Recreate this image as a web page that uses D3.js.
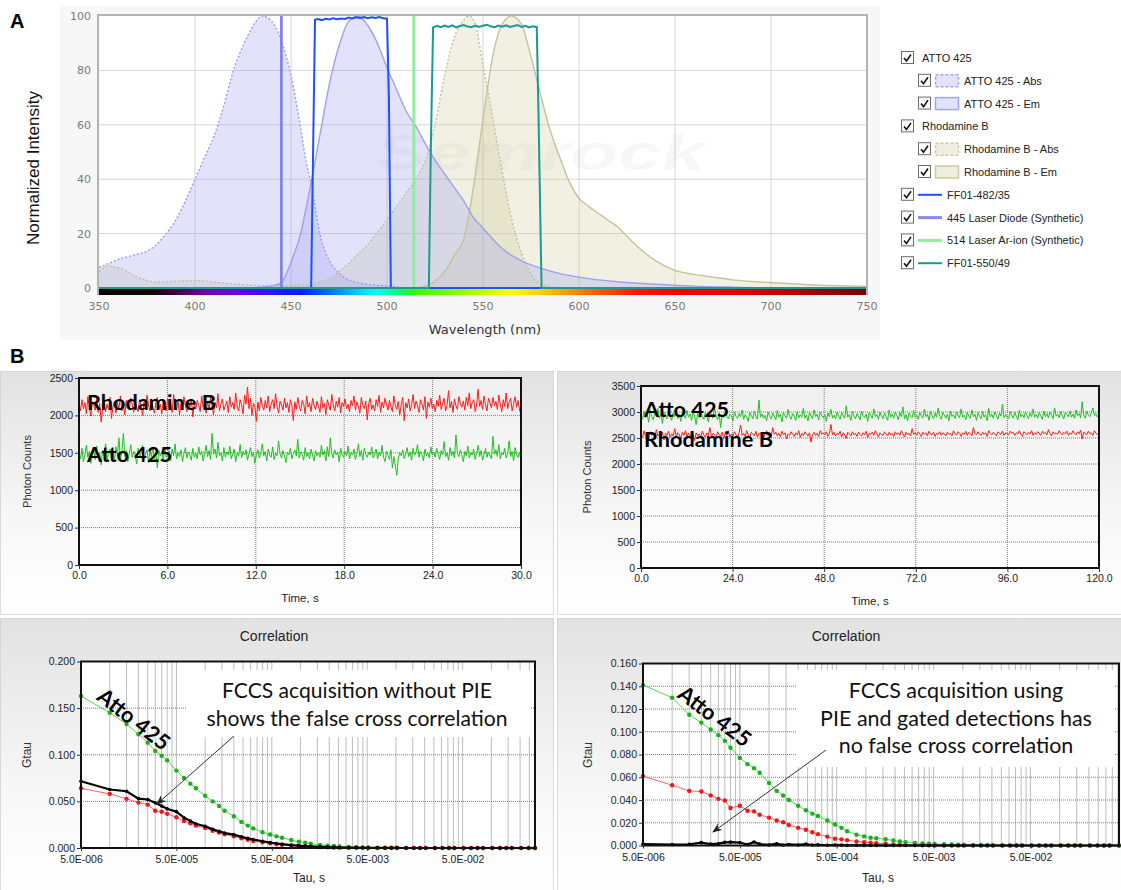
<!DOCTYPE html>
<html><head><meta charset="utf-8">
<script src="https://cdn.jsdelivr.net/npm/d3@7/dist/d3.min.js"></script>
<style>
html,body{margin:0;padding:0;background:#fff;}
svg{display:block;}
</style></head><body>
<svg id="fig" width="1121" height="890"></svg>
<script>
// ================= Panel A: spectra =================
const wavelengthTicks = [350,400,450,500,550,600,650,700,750];
const intensityTicks  = [0,20,40,60,80,100];

const attoAbsWl  = [350,355,360,365,370,375,380,385,390,395,400,405,410,415,420,425,430,435,440,445,450,455,458,460,462,465,468,470,475,480,485,490,500,510];
const attoAbsVal = [7.6,9,10.5,11.5,12.5,13.5,16,20,25,32,40,48,56,67,80,89,96,100,98,91,78,59,46,40,32,20,13,10,5.5,3,2,1.3,0.8,0];

const attoEmWl  = [430,435,440,445,450,455,460,465,470,475,480,485,490,495,500,505,510,515,520,525,530,535,540,545,550,560,570,580,590,600,620,640,660,680,700];
const attoEmVal = [0,0.3,0.8,2,9.5,20,37,56,75,89,98,100,96.5,90,81,73,65,59.5,53,47,42,37,32,26,22,14.5,10,7.3,5.3,4,2.3,1.4,0.7,0.3,0];

const rhodAbsWl  = [350,355,360,365,370,375,380,390,400,410,420,430,440,450,460,470,475,480,485,490,495,500,505,510,515,520,525,530,535,540,543,546,550,555,560,565,570,575,580,585,590];
const rhodAbsVal = [6,8,7.5,6,4,2.8,2.2,2.5,2.8,2.2,1.5,1,0.8,0.8,1.5,3.5,6,9,12.5,16,20.5,25,30,35,40,47,60,78,92,98.5,100,97,82,63,43,25,13,5,1.5,0.5,0];

const rhodEmWl  = [515,520,525,530,535,540,545,550,555,560,565,570,575,580,585,590,595,600,605,610,615,620,625,630,635,640,650,660,670,680,690,700,720,750];
const rhodEmVal = [0,0.8,2.5,6,12,18,37,62,85,97,100,97,85,71,58,48,39,33,30,27.5,25,22.5,19,15.5,12.5,10,6.5,5,4,3,2.4,2,1.2,0.6];

const ff482Wl = [350,460.5,461.5,462.5,464,466,468,470,472,474,476,478,480,482,484,486,488,490,492,494,496,498,500,501,502,750];
const ff482T  = [0,0,50,98.6,98.9,98.5,99.0,98.7,99.2,98.8,99.1,98.9,99.4,99.1,99.5,99.3,99.6,99.2,99.5,99.3,99.6,99.2,99.0,70,0,0];

const ff550Wl = [350,521.8,522.8,524,526,528,530,532,534,536,538,540,542,544,546,548,550,552,554,556,558,560,562,564,566,568,570,572,574,576,578,579,580.5,750];
const ff550T  = [0,0,50,95.8,96.4,95.9,96.5,96.0,96.6,95.8,96.3,96.7,96.1,95.9,96.5,96.0,96.4,96.8,96.2,95.9,96.5,96.1,96.6,96.0,96.3,96.7,96.0,96.4,95.8,96.2,95.9,60,0,0];

const laser445 = [445];
const laser514 = [514];
const laserPeak = 100;

const legendLabels = ['ATTO 425','ATTO 425 - Abs','ATTO 425 - Em','Rhodamine B','Rhodamine B - Abs','Rhodamine B - Em',
  'FF01-482/35','445 Laser Diode (Synthetic)','514 Laser Ar-ion (Synthetic)','FF01-550/49'];

// ================= Panel B: photon count traces =================
const timeTicks30  = [0,6,12,18,24,30];
const timeTicks120 = [0,24,48,72,96,120];
const countTicks2500 = [0,500,1000,1500,2000,2500];
const countTicks3500 = [0,500,1000,1500,2000,2500,3000,3500];

const rhodTrace30 = [
2140,2060,2210,2090,2170,2020,2250,2110,1990,2180,2130,2070,2230,2040,2160,1910,2100,2200,2050,2150,
2080,2240,1960,2120,2190,2030,2170,2100,2260,2060,2140,2010,2200,2120,2080,2230,2150,2040,2190,2110,
2050,2210,2130,2000,2180,2090,2270,2140,2060,2200,2110,2030,2170,2240,2080,2150,2020,2190,2120,2060,
2230,2100,2160,2040,2280,2130,2070,2200,2010,2150,2090,2250,2120,2050,2180,2110,2220,1980,2160,2090,
2200,2130,2050,2260,2110,2170,2030,2190,2080,2240,2140,2010,2180,2100,2290,2060,2150,2220,2070,2130,
2190,2040,2250,2110,2170,2080,2300,2120,2060,2210,2140,2020,2270,2150,2380,2090,2230,2000,2160,2110,
1920,2180,2060,2240,2130,2070,2200,2100,2260,2050,2150,2210,2090,2290,2120,2030,2190,2140,2070,2230,
2100,2170,2040,2210,2130,1930,2180,2080,2240,2120,2060,2200,2150,2020,2260,2110,2170,2050,2230,2130,
2080,2190,2120,2040,2250,2100,2160,2010,2210,2130,2070,2280,2140,2060,2190,2110,2240,2030,2170,2120,
2220,2090,2150,2050,2200,2130,2260,2070,2180,2110,2030,2240,2140,2090,2190,1940,2160,2230,2080,2140,
2060,2210,2120,2270,2040,2180,2100,2230,2150,2070,2200,2120,2050,2260,2130,2080,2190,2010,2150,2240,
1930,2170,2100,2220,2060,2140,2280,2090,2190,2130,2040,2210,2150,2070,2250,1960,2180,2110,2230,2090,
2150,2050,2200,2120,2270,2080,2170,2230,2060,2140,2330,2100,2190,2040,2220,2130,2080,2250,2160,2110,
2190,2070,2240,2130,2300,2090,2170,2210,2050,2150,2350,2120,2200,2080,2260,2140,2060,2230,2170,2100,
2240,2130,2190,2080,2270,2150,2050,2210,2120,2300,2090,2180,2230,2060,2160,2250,2110,2200,2070,2010];

const attoTrace30 = [
1500,1420,1560,1380,1480,1600,1440,1520,1360,1470,1540,1410,1590,1450,1500,1340,1530,1460,1620,1400,
1490,1550,1430,1510,1390,1580,1460,1700,1420,1500,1760,1450,1530,1380,1490,1610,1440,1520,1470,1350,
1560,1430,1500,1600,1410,1480,1540,1370,1520,1450,1580,1420,1490,1300,1530,1460,1510,1400,1570,1440,
1480,1530,1390,1550,1460,1620,1420,1500,1450,1540,1380,1490,1570,1430,1510,1470,1400,1560,1440,1500,
1420,1580,1470,1520,1390,1490,1600,1450,1530,1410,1760,1480,1550,1430,1640,1460,1500,1390,1570,1440,
1510,1470,1590,1420,1490,1550,1380,1500,1460,1610,1430,1520,1470,1540,1400,1490,1570,1450,1510,1360,
1480,1540,1430,1500,1620,1460,1520,1390,1550,1470,1440,1580,1410,1500,1460,1660,1490,1430,1530,1450,
1370,1510,1470,1560,1420,1490,1540,1460,1680,1430,1510,1480,1400,1570,1450,1500,1420,1550,1470,1390,
1530,1460,1500,1440,1600,1470,1520,1390,1580,1450,1700,1490,1430,1540,1470,1510,1380,1560,1480,1440,
1520,1460,1590,1420,1500,1470,1550,1410,1490,1620,1450,1530,1400,1560,1480,1440,1510,1470,1580,1430,
1490,1550,1420,1510,1460,1600,1440,1380,1520,1470,1410,1540,1300,1450,1320,1200,1430,1500,1460,1540,
1420,1490,1570,1450,1510,1400,1560,1470,1500,1610,1440,1520,1480,1390,1550,1460,1500,1430,1580,1470,
1510,1440,1560,1480,1410,1530,1470,1650,1450,1500,1400,1570,1460,1520,1430,1740,1490,1450,1540,1470,
1380,1520,1460,1590,1430,1500,1470,1550,1410,1490,1600,1450,1530,1400,1480,1560,1440,1510,1470,1420,
1720,1480,1540,1450,1610,1420,1500,1470,1560,1430,1490,1660,1450,1520,1390,1570,1480,1440,1510,1400];

const attoTrace120 = [
2930,2860,3010,2890,2960,2800,3040,2910,2850,2990,2920,3070,2880,2950,2780,3000,2930,2870,3020,2900,
2840,2980,2910,3060,2870,2950,2820,2990,2930,2880,3030,2900,2960,2840,3010,2920,2760,2970,2890,3050,
2910,2860,2990,2930,2810,3000,2950,2880,3080,2920,2850,2980,2700,2940,2890,3020,2910,2870,2960,2930,
2830,3000,2920,2880,2970,2910,3040,2860,2950,2900,2820,2990,2940,2870,3010,2920,2860,3230,2900,2960,
2880,2940,2830,3000,2910,2870,2980,2920,2850,3030,2900,2960,2810,2990,2930,2880,3050,2910,2860,2970,
2920,2840,3010,2890,2950,2900,3070,2880,2940,2830,2990,2920,2870,3040,2910,2960,2850,3000,2930,2890,
2960,2820,2980,2910,3050,2880,2940,2870,3000,2920,2860,2990,2930,2880,3120,2900,2950,2840,3010,2920,
2870,2970,2910,2850,3020,2930,2890,2960,2820,2990,2940,2880,3060,2910,2950,2860,3000,2920,2870,2980,
2910,2840,3040,2900,2960,2880,3000,2930,2850,2990,2910,3100,2870,2950,2830,2980,2920,2890,3030,2900,
2940,2860,2990,2920,2880,3050,2910,2960,2840,3010,2930,2870,2980,2900,3080,2920,2860,2990,2940,2880,
2960,2830,3020,2910,2950,2870,3000,2930,2890,3060,2900,2940,2850,2990,2920,2880,3040,2910,2960,2840,
2990,2920,2870,3010,2900,2950,2830,3070,2910,2960,2880,3000,2930,2860,2980,2920,3150,2890,2950,2900,
2870,3010,2940,2880,2990,2920,2850,3030,2910,2960,2890,3000,2930,2870,2980,2910,3060,2900,2950,2880,
2990,2930,2860,3020,2910,2970,2890,3000,2940,2870,3080,2920,2960,2890,3010,2930,2870,2990,2950,2910,
3020,2900,2960,2880,3040,2930,2970,2890,3200,2940,2880,3010,2950,2910,2990,3080,2930,2970,2900,2960];

const rhodTrace120 = [
2570,2510,2640,2530,2600,2480,2620,2550,2590,2500,2660,2540,2580,2520,2610,2460,2590,2550,2630,2510,
2580,2540,2680,2520,2600,2560,2490,2610,2550,2640,2530,2590,2500,2620,2570,2450,2600,2540,2580,2520,
2630,2560,2510,2600,2550,2700,2530,2590,2570,2500,2620,2560,2540,2610,2480,2590,2550,2640,2520,2580,
2540,2620,2570,2510,2600,2750,2550,2590,2530,2640,2560,2500,2610,2580,2540,2630,2520,2590,2560,2610,
2500,2580,2640,2550,2600,2530,2700,2570,2610,2540,2590,2520,2630,2560,2600,2480,2580,2550,2620,2570,
2530,2600,2560,2640,2510,2590,2550,2620,2580,2540,2600,2420,2570,2610,2550,2590,2530,2640,2570,2600,
2560,2620,2530,2590,2760,2560,2610,2540,2590,2570,2630,2520,2600,2560,2490,2610,2580,2540,2620,2560,
2590,2530,2610,2570,2540,2600,2560,2630,2510,2590,2570,2610,2550,2640,2580,2520,2600,2570,2550,2620,
2580,2540,2610,2560,2590,2530,2620,2570,2600,2550,2640,2580,2520,2610,2560,2590,2540,2680,2570,2600,
2550,2620,2580,2530,2610,2570,2600,2540,2630,2580,2560,2610,2530,2590,2570,2620,2550,2600,2580,2540,
2610,2570,2590,2540,2640,2580,2560,2620,2590,2530,2600,2570,2630,2550,2610,2580,2540,2700,2590,2560,
2620,2580,2550,2610,2570,2600,2530,2640,2590,2560,2610,2580,2540,2620,2590,2570,2630,2550,2600,2580,
2560,2630,2590,2610,2550,2600,2580,2640,2570,2530,2620,2590,2560,2610,2580,2640,2550,2600,2570,2620,
2590,2550,2630,2580,2610,2560,2660,2590,2540,2620,2580,2600,2570,2640,2590,2560,2610,2580,2630,2550,
2600,2570,2640,2590,2560,2620,2580,2650,2480,2610,2590,2560,2630,2580,2600,2550,2640,2590,2570,2600];

// ================= Panel B: correlation curves =================
const tauTicks = [5e-6,5e-5,5e-4,5e-3,5e-2];
const gTicksLeft  = [0,0.05,0.1,0.15,0.2];
const gTicksRight = [0,0.02,0.04,0.06,0.08,0.1,0.12,0.14,0.16];

const tauS = [5e-6,1e-5,1.5e-5,2e-5,2.5e-5,3e-5,3.5e-5,4e-5,
  5e-5,6e-5,7e-5,8e-5,1e-4,1.2e-4,1.4e-4,1.6e-4,
  2e-4,2.4e-4,2.8e-4,3.2e-4,4e-4,4.8e-4,5.6e-4,6.4e-4,
  8e-4,9.6e-4,1.12e-3,1.28e-3,1.6e-3,1.92e-3,2.24e-3,2.56e-3,
  3.2e-3,3.84e-3,4.48e-3,5.12e-3,6.4e-3,7.68e-3,8.96e-3,1.024e-2,
  1.28e-2,1.536e-2,1.792e-2,2.048e-2,2.56e-2,3.072e-2,3.584e-2,4.096e-2,
  5.12e-2,6.144e-2,7.168e-2,8.192e-2,0.1024,0.1229,0.1434,0.1638,
  0.2048,0.2458,0.2867,0.3277,0.4096];

// without PIE
const gAttoNoPie = [0.163,0.145,0.133,0.122,0.113,0.104,0.099,0.094,0.083,0.075,0.069,0.064,0.056,0.050,0.045,0.040,
  0.034,0.028,0.024,0.021,0.017,0.0145,0.0125,0.011,0.0085,0.0068,0.0056,0.0047,0.0034,0.0026,0.0021,0.0017,
  0.0012,0.0009,0.0007,0.0006,0.0004,0.0003,0.0002,0.0002,0.0001,0.0001,0.0001,0,0,0,0,0,0,0,0,0,0,0,0,0,0,0,0,0,0];
const gRhodNoPie = [0.064,0.058,0.0527,0.0487,0.0465,0.040,0.0388,0.0366,0.033,0.029,0.0265,0.024,0.0215,0.0185,0.0165,0.0148,
  0.0125,0.0105,0.0088,0.0075,0.0062,0.005,0.0041,0.0035,0.0026,0.002,0.0016,0.0013,0.0009,0.0007,0.0005,0.0004,
  0.0003,0.0002,0.0002,0.0001,0.0001,0,0,0,0,0,0,0,0,0,0,0,0,0,0,0,0,0,0,0,0,0,0,0,0];
const gCrossNoPie = [0.0716,0.0627,0.0609,0.053,0.052,0.0484,0.045,0.042,0.039,0.0325,0.029,0.026,0.0233,0.020,0.018,0.016,
  0.0143,0.012,0.0103,0.009,0.0072,0.0058,0.0048,0.0041,0.0031,0.0025,0.0021,0.0017,0.0012,0.0009,0.0007,0.0005,
  0.0004,0.0003,0.0002,0.0002,0.0001,0.0001,0.0001,0.0001,0,0,0,0,0,0,0,0,0,0,0,0,0,0,0,0,0,0,0,0,0];

// with PIE and gated detection
const gAttoPie = [0.141,0.130,0.115,0.108,0.102,0.097,0.092,0.086,0.077,0.0715,0.068,0.064,0.055,0.048,0.044,0.040,
  0.035,0.031,0.028,0.026,0.022,0.0185,0.0155,0.0125,0.0095,0.008,0.0068,0.0064,0.0055,0.0045,0.0035,0.003,
  0.0022,0.0018,0.0015,0.0013,0.0011,0.0009,0.0008,0.0007,0.0005,0.0004,0.0003,0.0002,0.0001,0.0001,0,0,0,0,0,0,0,0,0,0,0,0,0,0,0];
const gRhodPie = [0.061,0.053,0.048,0.0475,0.044,0.041,0.0395,0.033,0.035,0.0305,0.030,0.027,0.0245,0.022,0.0205,0.018,
  0.0155,0.0138,0.0117,0.010,0.0078,0.006,0.0054,0.0047,0.0036,0.0029,0.0025,0.0021,0.0015,0.001,0.0008,0.0006,
  0.0004,0.0003,0.0002,0.0001,0,0,0,0,0,0,0,0,0,0,0,0,0,0,0,0,0,0,0,0,0,0,0,0,0];
const gCrossPie = [0.0012,0.0008,0.0011,0.0025,0.0012,0.0016,0.0028,0.0030,0.0026,0.0008,0.0031,0.0012,0.0005,0.0016,0.0004,0.0009,
  0.0005,0.0012,0.0004,0.0006,0.0002,0.0005,0.0003,0.0001,0.0002,0.0001,0,0.0001,0,0,0,0,0,0,0,0,0,0,0,0,0,0,0,0,0,0,0,0,0,0,0,0,0,0,0,0,0,0,0,0,0];

// ================= drawing =================
const svg = d3.select('#fig');
const defs = svg.append('defs');

// ---------- Panel A ----------
const xA = d3.scaleLinear().domain([350,750]).range([99,867]);
const yA = d3.scaleLinear().domain([0,100]).range([288,16]);

svg.append('rect').attr('x',60).attr('y',6).attr('width',820).attr('height',334).attr('fill','#f7f7f7');
svg.append('rect').attr('x',98).attr('y',15).attr('width',769).attr('height',274).attr('fill','#fff');

const gA = svg.append('g');
gA.selectAll(null).data(wavelengthTicks.slice(1,-1)).join('line')
  .attr('x1',d=>xA(d)).attr('x2',d=>xA(d)).attr('y1',yA(100)).attr('y2',yA(0))
  .attr('stroke','#d6d6d6').attr('stroke-width',1);
gA.selectAll(null).data(intensityTicks.slice(1,-1)).join('line')
  .attr('x1',xA(350)).attr('x2',xA(750)).attr('y1',d=>yA(d)).attr('y2',d=>yA(d))
  .attr('stroke','#d6d6d6').attr('stroke-width',1);

// faint brand watermark
gA.append('text').attr('x',540).attr('y',170).attr('text-anchor','middle')
  .attr('font-family','Liberation Sans, Arial, sans-serif').attr('font-weight','bold').attr('font-style','italic')
  .attr('font-size',50).attr('textLength',330).attr('lengthAdjust','spacingAndGlyphs')
  .attr('fill','#000').attr('fill-opacity',0.03).text('Semrock');

const zipXY = (a,b) => a.map((v,i)=>[v,b[i]]);
const areaA = d3.area().x(d=>xA(d[0])).y0(yA(0)).y1(d=>yA(d[1])).curve(d3.curveMonotoneX);
const lineA = d3.line().x(d=>xA(d[0])).y(d=>yA(d[1])).curve(d3.curveMonotoneX);
const lineLin = d3.line().x(d=>xA(d[0])).y(d=>yA(d[1]));

const spectra = [
  {wl:rhodEmWl,  v:rhodEmVal,  fill:'#c9c58f', op:0.26, stroke:'#c6c29a', dash:null},
  {wl:rhodAbsWl, v:rhodAbsVal, fill:'#c9c58f', op:0.26, stroke:'#c4c0a0', dash:'2,2'},
  {wl:attoEmWl,  v:attoEmVal,  fill:'#a0a0f0', op:0.3,  stroke:'#a0a0f0', dash:null},
  {wl:attoAbsWl, v:attoAbsVal, fill:'#a0a0f0', op:0.3,  stroke:'#9c9cf0', dash:'2,2'}
];
spectra.forEach(s=>{
  gA.append('path').attr('d',areaA(zipXY(s.wl,s.v))).attr('fill',s.fill).attr('fill-opacity',s.op);
});
spectra.forEach(s=>{
  gA.append('path').attr('d',lineA(zipXY(s.wl,s.v))).attr('fill','none')
    .attr('stroke',s.stroke).attr('stroke-width',1.4).attr('stroke-dasharray',s.dash);
});

// lasers
gA.selectAll(null).data(laser445).join('line')
  .attr('x1',d=>xA(d)).attr('x2',d=>xA(d)).attr('y1',yA(0)).attr('y2',yA(laserPeak))
  .attr('stroke','#7d7dec').attr('stroke-width',2.6);
gA.selectAll(null).data(laser514).join('line')
  .attr('x1',d=>xA(d)).attr('x2',d=>xA(d)).attr('y1',yA(0)).attr('y2',yA(laserPeak))
  .attr('stroke','#8eee9e').attr('stroke-width',3);

// filters
gA.append('path').attr('d',lineLin(zipXY(ff482Wl,ff482T))).attr('fill','none').attr('stroke','#1f50ff').attr('stroke-width',2);
gA.append('path').attr('d',lineLin(zipXY(ff550Wl,ff550T))).attr('fill','none').attr('stroke','#1a9a90').attr('stroke-width',2);

// spectrum bar below the axis
const specStopsWl  = [350,375,390,405,420,440,455,470,485,495,505,515,530,550,565,580,595,610,630,650,680,700,725,750];
const specStopsCol = ['#000000','#000000','#3a0040','#7a00a8','#6a00e0','#2a18ff','#0018ff','#0070ff','#00d0ff','#00fff0','#00ff80','#30ff00','#70ff00','#c0ff00','#ffff00','#ffd000','#ff9400','#ff5a00','#ff1800','#f80000','#e80000','#cc0000','#a00000','#780000'];
const specGrad = defs.append('linearGradient').attr('id','spectrum').attr('gradientUnits','userSpaceOnUse')
  .attr('x1',xA(350)).attr('x2',xA(750)).attr('y1',0).attr('y2',0);
specStopsWl.forEach((w,i)=>specGrad.append('stop').attr('offset',(w-350)/400).attr('stop-color',specStopsCol[i]));
gA.append('rect').attr('x',xA(350)).attr('y',289).attr('width',xA(750)-xA(350)).attr('height',6).attr('fill','url(#spectrum)');

// frame
gA.append('path').attr('d',`M${98},${295}V${15}H${867}V${295}`).attr('fill','none').attr('stroke','#b4b4b4').attr('stroke-width',2);

// axis labels
gA.selectAll(null).data(wavelengthTicks).join('text')
  .attr('x',d=>xA(d)).attr('y',310).attr('text-anchor','middle')
  .attr('font-family','DejaVu Sans, sans-serif').attr('font-size',11).attr('fill','#7a7a7a').text(d=>d);
gA.selectAll(null).data(intensityTicks).join('text')
  .attr('x',91).attr('y',d=>yA(d)+4).attr('text-anchor','end')
  .attr('font-family','DejaVu Sans, sans-serif').attr('font-size',11).attr('fill','#7a7a7a').text(d=>d);
gA.append('text').attr('x',485).attr('y',334).attr('text-anchor','middle')
  .attr('font-family','DejaVu Sans, sans-serif').attr('font-size',13).attr('fill','#333').text('Wavelength (nm)');
gA.append('text').attr('transform','translate(39,168) rotate(-90)').attr('text-anchor','middle')
  .attr('font-family','Liberation Sans, Arial, sans-serif').attr('font-size',17).attr('fill','#111').text('Normalized Intensity');

svg.append('text').attr('x',10).attr('y',28).attr('font-family','Liberation Sans, Arial, sans-serif')
  .attr('font-weight','bold').attr('font-size',20).attr('fill','#000').text('A');

// legend
const legendStyle = [
  {indent:0, kind:'group'},
  {indent:1, kind:'area', fill:'#a0a0f0', stroke:'#a4a4f2', dash:'3,2'},
  {indent:1, kind:'area', fill:'#a0a0f0', stroke:'#a4a4f2', dash:null},
  {indent:0, kind:'group'},
  {indent:1, kind:'area', fill:'#c9c58f', stroke:'#cdc9a6', dash:'3,2'},
  {indent:1, kind:'area', fill:'#c9c58f', stroke:'#cdc9a6', dash:null},
  {indent:0, kind:'line', stroke:'#1f50ff', width:2},
  {indent:0, kind:'line', stroke:'#8888ee', width:3},
  {indent:0, kind:'line', stroke:'#90ee9e', width:3},
  {indent:0, kind:'line', stroke:'#1a9a90', width:2}
];
const gL = svg.append('g').attr('font-family','Liberation Sans, Arial, sans-serif').attr('font-size',11);
legendLabels.forEach((label,i)=>{
  const st = legendStyle[i];
  const cy = 58 + i*22.8;
  const bx = st.indent ? 918 : 901;
  gL.append('rect').attr('x',bx+0.5).attr('y',cy-6.5).attr('width',12).attr('height',12)
    .attr('fill','#fff').attr('stroke','#6b6b6b').attr('stroke-width',1);
  gL.append('path').attr('d',`M${bx+3},${cy} L${bx+5.5},${cy+3} L${bx+10},${cy-3.5}`)
    .attr('fill','none').attr('stroke','#111').attr('stroke-width',1.6);
  let tx;
  if (st.kind==='group') { tx = bx + 21; }
  else if (st.kind==='area') {
    gL.append('rect').attr('x',935.5).attr('y',cy-6).attr('width',23).attr('height',12)
      .attr('fill',st.fill).attr('fill-opacity',0.3).attr('stroke',st.stroke).attr('stroke-width',1.5)
      .attr('stroke-dasharray',st.dash);
    tx = 964;
  } else {
    gL.append('line').attr('x1',918).attr('x2',942).attr('y1',cy).attr('y2',cy)
      .attr('stroke',st.stroke).attr('stroke-width',st.width);
    tx = 947;
  }
  gL.append('text').attr('x',tx).attr('y',cy+4).attr('fill','#222').text(label);
});

// ---------- Panel B ----------
svg.append('text').attr('x',10).attr('y',363).attr('font-family','Liberation Sans, Arial, sans-serif')
  .attr('font-weight','bold').attr('font-size',20).attr('fill','#000').text('B');

const pg = defs.append('linearGradient').attr('id','panelGrad').attr('x1',0).attr('y1',0).attr('x2',0).attr('y2',1);
pg.append('stop').attr('offset',0).attr('stop-color','#e2e2e2');
pg.append('stop').attr('offset',0.6).attr('stop-color','#f7f7f7');
pg.append('stop').attr('offset',1).attr('stop-color','#ffffff');
const plg = defs.append('linearGradient').attr('id','plotGrad').attr('x1',0).attr('y1',0).attr('x2',0).attr('y2',1);
plg.append('stop').attr('offset',0).attr('stop-color','#efefef');
plg.append('stop').attr('offset',1).attr('stop-color','#ffffff');

const mk = defs.append('marker').attr('id','arrowHead').attr('viewBox','0 0 10 8').attr('refX',9).attr('refY',4)
  .attr('markerWidth',10).attr('markerHeight',8).attr('markerUnits','userSpaceOnUse').attr('orient','auto');
mk.append('path').attr('d','M0,0 L10,4 L0,8 L3,4 Z').attr('fill','#222');

function panelBox(x,y,w,h){
  svg.append('rect').attr('x',x).attr('y',y).attr('width',w).attr('height',h)
    .attr('fill','url(#panelGrad)').attr('stroke','#b8b8b8').attr('stroke-dasharray','1,1');
}
panelBox(0.5,371.5,553,243);
panelBox(557.5,371.5,570,243);
panelBox(0.5,618.5,553,280);
panelBox(557.5,618.5,570,280);

const AX_FONT = 'Liberation Sans, Arial, sans-serif';
const GRID = '#7c7c7c';
function styleAxis(g){
  g.select('.domain').remove();
  g.selectAll('.tick line').attr('stroke','#333');
  g.selectAll('.tick text').attr('font-family',AX_FONT).attr('font-size',10.5).attr('fill','#222');
}

function tracePlot(o){
  const x = d3.scaleLinear().domain([0,o.tMax]).range([o.left,o.right]);
  const y = d3.scaleLinear().domain([0,o.yMax]).range([o.bottom,o.top]);
  const g = svg.append('g');
  g.append('rect').attr('x',o.left).attr('y',o.top).attr('width',o.right-o.left).attr('height',o.bottom-o.top).attr('fill','url(#plotGrad)');
  g.selectAll(null).data(o.xTicks).join('line').attr('x1',d=>x(d)).attr('x2',d=>x(d)).attr('y1',o.top).attr('y2',o.bottom)
    .attr('stroke',GRID).attr('stroke-dasharray','1,1');
  g.selectAll(null).data(o.yTicks).join('line').attr('x1',o.left).attr('x2',o.right).attr('y1',d=>y(d)).attr('y2',d=>y(d))
    .attr('stroke',GRID).attr('stroke-dasharray','1,1');
  o.series.forEach(s=>{
    const n = s.values.length;
    const ln = d3.line().x((d,i)=>x(i*o.tMax/(n-1))).y(d=>y(d));
    g.append('path').attr('d',ln(s.values)).attr('fill','none').attr('stroke',s.color).attr('stroke-width',1);
  });
  g.append('rect').attr('x',o.left).attr('y',o.top).attr('width',o.right-o.left).attr('height',o.bottom-o.top)
    .attr('fill','none').attr('stroke','#111').attr('stroke-width',2);
  g.append('g').attr('transform',`translate(0,${o.bottom})`)
    .call(d3.axisBottom(x).tickValues(o.xTicks).tickFormat(d3.format('.1f')).tickSize(4).tickPadding(3)).call(styleAxis);
  g.append('g').attr('transform',`translate(${o.left},0)`)
    .call(d3.axisLeft(y).tickValues(o.yTicks).tickFormat(d3.format('d')).tickSize(4).tickPadding(2)).call(styleAxis);
  g.append('text').attr('x',(o.left+o.right)/2).attr('y',o.bottom+37).attr('text-anchor','middle')
    .attr('font-family',AX_FONT).attr('font-size',11.5).attr('fill','#222').text('Time, s');
  g.append('text').attr('transform',`translate(${o.yLabelX},${(o.top+o.bottom)/2}) rotate(-90)`).attr('text-anchor','middle')
    .attr('font-family',AX_FONT).attr('font-size',11).attr('fill','#333').text('Photon Counts');
  return {x,y,g};
}

const red = '#ff1a1a', green = '#1ec21e';
tracePlot({left:79,right:521,top:378,bottom:565,tMax:30,yMax:2500,xTicks:timeTicks30,yTicks:countTicks2500,yLabelX:31,
  series:[{values:rhodTrace30,color:red},{values:attoTrace30,color:green}]});
tracePlot({left:641,right:1099,top:386,bottom:568,tMax:120,yMax:3500,xTicks:timeTicks120,yTicks:countTicks3500,yLabelX:591,
  series:[{values:attoTrace120,color:green},{values:rhodTrace120,color:red}]});

const tauFormat = d => {
  const e = Math.floor(Math.log10(d)+1e-9);
  const m = d/Math.pow(10,e);
  return m.toFixed(1)+'E'+(e<0?'-':'+')+String(Math.abs(e)).padStart(3,'0');
};

function corrPlot(o){
  const x = d3.scaleLog().domain([5e-6,o.tauMax]).range([o.left,o.right]);
  const y = d3.scaleLinear().domain([0,o.gMax]).range([o.bottom,o.top]);
  const g = svg.append('g');
  g.append('rect').attr('x',o.left).attr('y',o.top).attr('width',o.right-o.left).attr('height',o.bottom-o.top).attr('fill','#fff');
  const grid = [];
  tauTicks.forEach(b=>{ for(let k=1;k<=9;k++){ const v=b*k; if(v<o.tauMax*0.999) grid.push(v);} });
  g.selectAll(null).data(grid).join('line').attr('x1',d=>x(d)).attr('x2',d=>x(d)).attr('y1',o.top).attr('y2',o.bottom)
    .attr('stroke',GRID).attr('stroke-dasharray','1,1');
  g.selectAll(null).data(o.yTicks).join('line').attr('x1',o.left).attr('x2',o.right).attr('y1',d=>y(d)).attr('y2',d=>y(d))
    .attr('stroke',GRID).attr('stroke-dasharray','1,1');
  o.series.forEach(s=>{
    const pts = tauS.map((t,i)=>[t,s.values[i]]).filter(d=>d[0]<=o.tauMax*1.001);
    const ln = d3.line().x(d=>x(d[0])).y(d=>y(d[1]));
    g.append('path').attr('d',ln(pts)).attr('fill','none').attr('stroke',s.line).attr('stroke-width',s.width);
    g.selectAll(null).data(pts).join('circle').attr('cx',d=>x(d[0])).attr('cy',d=>y(d[1])).attr('r',s.r).attr('fill',s.dot);
  });
  g.append('rect').attr('x',o.left).attr('y',o.top).attr('width',o.right-o.left).attr('height',o.bottom-o.top)
    .attr('fill','none').attr('stroke','#111').attr('stroke-width',2);
  g.append('g').attr('transform',`translate(0,${o.bottom})`)
    .call(d3.axisBottom(x).tickValues(tauTicks).tickFormat(tauFormat).tickSize(3).tickPadding(5)).call(styleAxis);
  g.append('g').attr('transform',`translate(${o.left},0)`)
    .call(d3.axisLeft(y).tickValues(o.yTicks).tickFormat(d3.format('.3f')).tickSize(4).tickPadding(2)).call(styleAxis);
  g.append('text').attr('x',o.titleX).attr('y',641).attr('text-anchor','middle')
    .attr('font-family',AX_FONT).attr('font-size',14).attr('fill','#222').text('Correlation');
  g.append('text').attr('x',o.tauLabelX).attr('y',882).attr('text-anchor','middle')
    .attr('font-family',AX_FONT).attr('font-size',12).attr('fill','#222').text('Tau, s');
  g.append('text').attr('transform',`translate(${o.gLabelX},755) rotate(-90)`).attr('text-anchor','middle')
    .attr('font-family',AX_FONT).attr('font-size',12).attr('fill','#333').text('Gtau');
  return {x,y,g};
}

const greenSeries = v => ({values:v,line:'#55d055',dot:'#19b019',width:1,r:2.2});
const redSeries   = v => ({values:v,line:'#ff6060',dot:'#ee1818',width:1,r:2.2});
const blackSeries = v => ({values:v,line:'#000',dot:'#000',width:2.2,r:1.8});

corrPlot({left:81,right:535,top:661.5,bottom:848,tauMax:0.2867,gMax:0.2,yTicks:gTicksLeft,titleX:274,tauLabelX:309,gLabelX:31,
  series:[greenSeries(gAttoNoPie),redSeries(gRhodNoPie),blackSeries(gCrossNoPie)]});
corrPlot({left:643,right:1119,top:663.5,bottom:845.5,tauMax:0.41,gMax:0.16,yTicks:gTicksRight,titleX:846,tauLabelX:878,gLabelX:592,
  series:[redSeries(gRhodPie),greenSeries(gAttoPie),blackSeries(gCrossPie)]});

// ---------- text annotations ----------
const NOTE_FONT = 'Lato, "Open Sans", sans-serif';
function fitText(sel, target){
  const w = sel.node().getComputedTextLength();
  const fs = parseFloat(sel.attr('font-size'));
  return fs*target/w;
}
const probe = svg.append('text').attr('font-family',NOTE_FONT).attr('font-weight','bold').attr('font-size',20).text('Rhodamine B');
const dyeFs = fitText(probe,129);
probe.remove();

function dyeLabel(x,yb,txt,rot){
  const t = svg.append('text').attr('font-family',NOTE_FONT).attr('font-weight','bold').attr('font-size',dyeFs)
    .attr('fill','#000').text(txt);
  if (rot!==undefined) t.attr('text-anchor','middle').attr('dominant-baseline','central').attr('transform',`translate(${x},${yb}) rotate(${rot})`);
  else t.attr('x',x).attr('y',yb);
  return t;
}
dyeLabel(87,410,'Rhodamine B');
dyeLabel(87,462,'Atto 425');
dyeLabel(644,417,'Atto 425');
dyeLabel(644,447,'Rhodamine B');
dyeLabel(134,719,'Atto 425',38);
dyeLabel(715,716,'Atto 425',37);

function noteBox(x0,y0,x1,y1,lines,cx,ys,targetIdx,targetW){
  svg.append('rect').attr('x',x0).attr('y',y0).attr('width',x1-x0).attr('height',y1-y0).attr('fill','#fff');
  const p = svg.append('text').attr('font-family',NOTE_FONT).attr('font-size',20).text(lines[targetIdx]);
  const fs = fitText(p,targetW); p.remove();
  lines.forEach((l,i)=>{
    svg.append('text').attr('x',cx).attr('y',ys[i]).attr('text-anchor','middle').attr('dominant-baseline','central')
      .attr('font-family',NOTE_FONT).attr('font-size',fs).attr('fill','#111').text(l);
  });
}
noteBox(187,670,530,737,['FCCS acquisition without PIE','shows the false cross correlation'],357,[689,717],0,270);
noteBox(796,670,1115,767,['FCCS acquisition using','PIE and gated detections has','no false cross correlation'],956,[690,718,745],1,272);

svg.append('line').attr('x1',234).attr('y1',736).attr('x2',157).attr('y2',804)
  .attr('stroke','#333').attr('stroke-width',1).attr('marker-end','url(#arrowHead)');
svg.append('line').attr('x1',826).attr('y1',750).attr('x2',713).attr('y2',832)
  .attr('stroke','#333').attr('stroke-width',1).attr('marker-end','url(#arrowHead)');
</script>
</body></html>
